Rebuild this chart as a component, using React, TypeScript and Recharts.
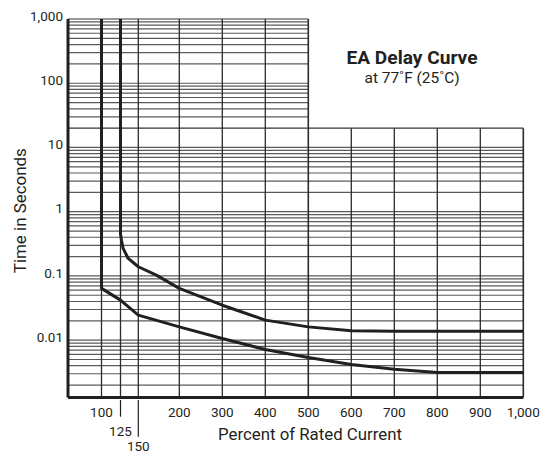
import { ComposedChart, Line, XAxis, YAxis, ReferenceLine } from "recharts"

// percent of rated current and time in seconds
const upperPct = [125, 125, 126.4, 128.7, 135.8, 150, 172, 200, 300, 400, 500, 600, 700, 800, 900, 1000]
const upperSec = [1000, 0.45, 0.36, 0.268, 0.187, 0.139, 0.103, 0.064, 0.035, 0.0205, 0.0161, 0.014, 0.0138, 0.0138, 0.0138, 0.0138]
const lowerPct = [100, 100, 125, 150, 200, 300, 400, 500, 600, 700, 800, 900, 1000]
const lowerSec = [1000, 0.064, 0.042, 0.0245, 0.0161, 0.0106, 0.00716, 0.00537, 0.00418, 0.00353, 0.00314, 0.00314, 0.00314]

const xTickPct = [100, 125, 150, 200, 300, 400, 500, 600, 700, 800, 900, 1000]
const yTickSec = [0.01, 0.1, 1, 10, 100, 1000]
const gridDecades = [-3, -2, -1, 0, 1, 2]
const gridMantissas = [1, 2, 3, 4, 5, 6, 7, 8, 9]

// the printed x axis is stretched below 200%, so percent goes through these breaks
const xBreakPct = [100, 125, 150, 200, 1000]
const xBreakPos = [33.5, 52.5, 70.3, 111.3, 455.3]

const Y_MIN = 0.00128
const Y_MAX = 1000
const BLOCK_PCT = 500 // the grid above 20 s stops at 500%
const BLOCK_SEC = 20

const INK = "#231f20"
const FONT = "Roboto, 'Liberation Sans', sans-serif"

function pos(p: number) {
  const n = xBreakPct.length
  for (let i = 1; i < n; i++) {
    if (p <= xBreakPct[i] || i === n - 1) {
      const a = xBreakPct[i - 1]
      const b = xBreakPct[i]
      return xBreakPos[i - 1] + ((p - a) / (b - a)) * (xBreakPos[i] - xBreakPos[i - 1])
    }
  }
  return 0
}

const upperData = upperPct.map((p, i) => ({ x: pos(p), t: upperSec[i] }))
const lowerData = lowerPct.map((p, i) => ({ x: pos(p), t: lowerSec[i] }))

const hGrid = gridDecades
  .flatMap((d) => gridMantissas.map((m) => +(m * Math.pow(10, d)).toPrecision(3)))
  .concat([1000])
  .filter((v) => v >= Y_MIN)

function XTick({ x, y, payload }: any) {
  const pct = xTickPct.find((p) => Math.abs(pos(p) - payload.value) < 0.01) ?? 0
  const label = pct.toLocaleString("en-US")
  if (pct === 125 || pct === 150) {
    const drop = pct === 125 ? 19.2 : 39.2
    return (
      <g>
        <line x1={x} x2={x} y1={y + 2.5} y2={y + drop} stroke={INK} strokeWidth={1.2} />
        <text x={x} y={y + (pct === 125 ? 38 : 53)} textAnchor="middle" fontSize={13.5} fill={INK} fontFamily={FONT}>
          {label}
        </text>
      </g>
    )
  }
  return (
    <text x={x} y={y + 19} textAnchor="middle" fontSize={13.5} fill={INK} fontFamily={FONT}>
      {label}
    </text>
  )
}

function YTick({ x, y, payload }: any) {
  return (
    <text x={x} y={y + 1.7} textAnchor="end" fontSize={13.5} fill={INK} fontFamily={FONT}>
      {payload.value.toLocaleString("en-US", { maximumFractionDigits: 3 })}
    </text>
  )
}

export default function App() {
  return (
    <div style={{ position: "absolute", left: 0, top: 0, background: "#fff" }}>
      <ComposedChart width={541} height={453} margin={{ top: 19, right: 17.7, bottom: 0, left: 0 }}>
        <XAxis
          type="number"
          dataKey="x"
          domain={[0, pos(1000)]}
          ticks={xTickPct.map(pos)}
          interval={0}
          tick={<XTick />}
          tickLine={false}
          tickSize={0}
          tickMargin={0}
          height={55.5}
          axisLine={{ stroke: INK, strokeWidth: 3 }}
          allowDataOverflow
        />
        <YAxis
          type="number"
          dataKey="t"
          scale="log"
          domain={[Y_MIN, Y_MAX]}
          ticks={yTickSec}
          interval={0}
          tick={<YTick />}
          tickLine={false}
          tickSize={0}
          tickMargin={5}
          width={68}
          axisLine={{ stroke: INK, strokeWidth: 3 }}
          allowDataOverflow
        />

        {hGrid.map((v) => (
          <ReferenceLine
            key={`h-${v}`}
            segment={[
              { x: 0, y: v },
              { x: pos(v > BLOCK_SEC ? BLOCK_PCT : 1000), y: v },
            ]}
            stroke={v === 1000 || v === BLOCK_SEC ? "#333" : "#5a5a5a"}
            strokeWidth={1.2}
            ifOverflow="visible"
          />
        ))}
        {xTickPct.map((p) => (
          <ReferenceLine
            key={`v-${p}`}
            segment={[
              { x: pos(p), y: Y_MIN },
              { x: pos(p), y: p > BLOCK_PCT ? BLOCK_SEC : Y_MAX },
            ]}
            stroke="#2b2b2b"
            strokeWidth={p === 1000 || p === BLOCK_PCT ? 1.6 : 1.3}
            ifOverflow="visible"
          />
        ))}

        <Line data={upperData} dataKey="t" type="linear" stroke={INK} strokeWidth={3} strokeLinejoin="round" dot={false} isAnimationActive={false} />
        <Line data={lowerData} dataKey="t" type="linear" stroke={INK} strokeWidth={3} strokeLinejoin="round" dot={false} isAnimationActive={false} />

        <text x={412} y={64} textAnchor="middle" fontSize={19} fontWeight="bold" fill={INK} fontFamily={FONT} textLength={131} lengthAdjust="spacingAndGlyphs">
          EA Delay Curve
        </text>
        <text x={412} y={83} textAnchor="middle" fontSize={15} fill={INK} fontFamily={FONT} textLength={95} lengthAdjust="spacingAndGlyphs">
          at 77˚F (25˚C)
        </text>
        <text x={310} y={440} textAnchor="middle" fontSize={16} fill={INK} fontFamily={FONT} textLength={184} lengthAdjust="spacingAndGlyphs">
          Percent of Rated Current
        </text>
        <text transform="rotate(-90)" x={-210.7} y={26} textAnchor="middle" fontSize={16} fill={INK} fontFamily={FONT} textLength={125} lengthAdjust="spacingAndGlyphs">
          Time in Seconds
        </text>
      </ComposedChart>
    </div>
  )
}
